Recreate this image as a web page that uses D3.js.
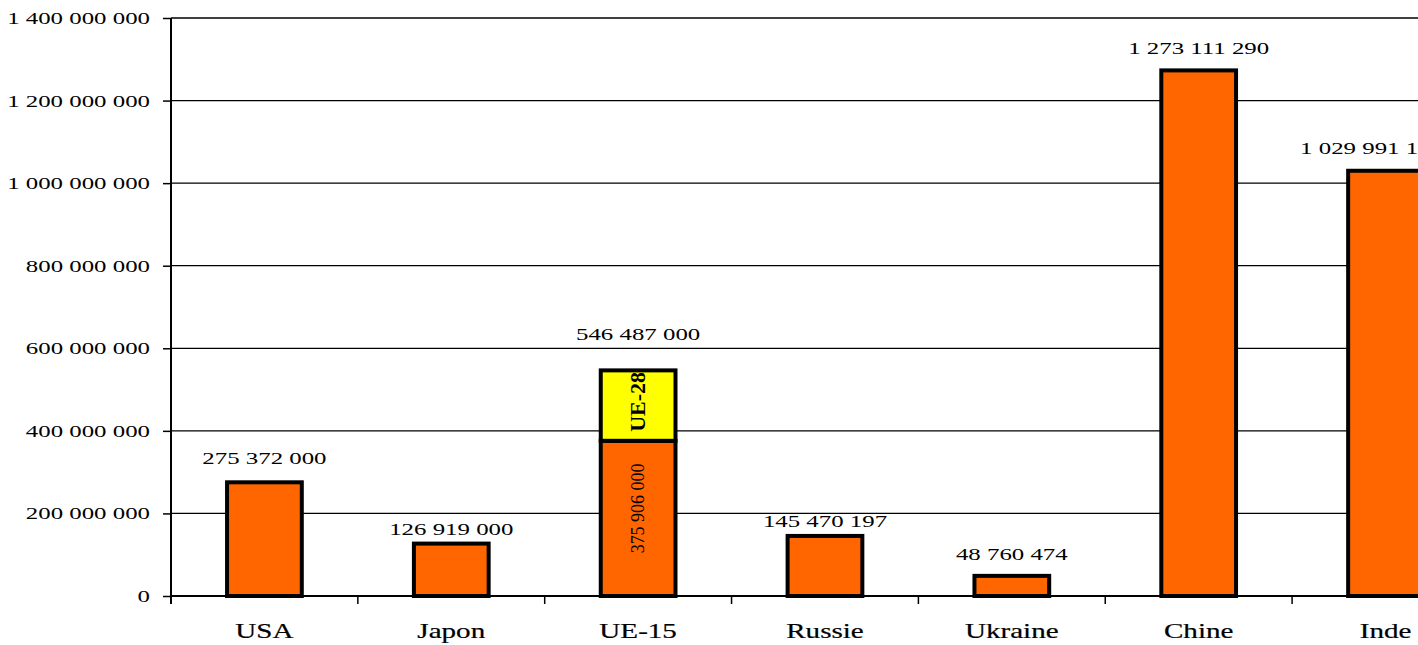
<!DOCTYPE html>
<html>
<head>
<meta charset="utf-8">
<script src="https://cdn.jsdelivr.net/npm/d3@7"></script>
<style>
  html, body { margin: 0; padding: 0; background: #fff; overflow: hidden; }
  svg { display: block; }
  text { font-family: "Liberation Serif", "Times New Roman", serif; fill: #000; }
</style>
</head>
<body>
<svg id="chart" width="1418" height="645"></svg>
<script>
// Population by country / bloc
const categories = ["USA", "Japon", "UE-15", "Russie", "Ukraine", "Chine", "Inde"];
const population = [275372000, 126919000, 375906000, 145470197, 48760474, 1273111290, 1029991145];
// Additional population brought by enlargement to UE-28 (stacked on UE-15)
const enlargement = [0, 0, 170581000, 0, 0, 0, 0];
const enlargementLabel = "UE-28";
const yTicks = [0, 200000000, 400000000, 600000000, 800000000, 1000000000, 1200000000, 1400000000];

// Label placement above each bar (px)
const labelGap = { "USA": 24, "Japon": 15, "UE-15": 36, "Russie": 15, "Ukraine": 22, "Chine": 22, "Inde": 23 };
const labelShift = { "Inde": -14 };

const fr = d3.formatLocale({ decimal: ",", thousands: " ", grouping: [3], currency: ["", " €"] });
const fmt = fr.format(",d");

const svg = d3.select("#chart");
const plotLeft = 171, plotTop = 18, plotBottom = 596;
const step = 186.85;
const STRETCH = 1.42; // horizontal stretch of the type

const x = d3.scaleBand()
  .domain(categories)
  .range([plotLeft, plotLeft + step * categories.length])
  .paddingInner(0.6)
  .paddingOuter(0.3);

const y = d3.scaleLinear().domain([0, 1400000000]).range([plotBottom, plotTop]);

const data = categories.map((c, i) => ({
  cat: c, base: population[i], extra: enlargement[i], total: population[i] + enlargement[i]
}));

// Horizontal gridlines
svg.append("g").selectAll("line").data(yTicks.filter(t => t > 0)).join("line")
  .attr("x1", plotLeft).attr("x2", 1500)
  .attr("y1", d => y(d)).attr("y2", d => y(d))
  .attr("stroke", "#000").attr("stroke-width", 1.3);

// Y axis
const yAxis = d3.axisLeft(y).tickValues(yTicks).tickSize(8).tickFormat("");
const gy = svg.append("g").attr("transform", `translate(${plotLeft},0)`).call(yAxis);
gy.select(".domain").remove();
gy.selectAll(".tick line").attr("stroke", "#000").attr("stroke-width", 1.5);
svg.append("line").attr("x1", plotLeft).attr("x2", plotLeft).attr("y1", plotTop).attr("y2", plotBottom + 8)
  .attr("stroke", "#000").attr("stroke-width", 2);

// Y tick labels (stretched serif)
svg.append("g").selectAll("g").data(yTicks).join("g")
  .attr("transform", d => `translate(150,${y(d) + 6}) scale(${STRETCH},1)`)
  .append("text")
  .attr("text-anchor", "end")
  .attr("font-size", 17.5)
  .text(d => fmt(d));

// X axis baseline and band-boundary ticks
svg.append("line").attr("x1", plotLeft).attr("x2", 1500).attr("y1", plotBottom).attr("y2", plotBottom)
  .attr("stroke", "#000").attr("stroke-width", 2);
svg.append("g").selectAll("line").data(categories).join("line")
  .attr("x1", d => x(d) - x.step() * 0.3 + x.step())
  .attr("x2", d => x(d) - x.step() * 0.3 + x.step())
  .attr("y1", plotBottom).attr("y2", plotBottom + 8)
  .attr("stroke", "#000").attr("stroke-width", 1.5);

// Category labels
svg.append("g").selectAll("g").data(categories).join("g")
  .attr("transform", d => `translate(${x(d) + x.bandwidth() / 2},638) scale(${STRETCH},1)`)
  .append("text")
  .attr("text-anchor", "middle")
  .attr("font-size", 20.5)
  .attr("stroke", "#000").attr("stroke-width", 0.2)
  .text(d => d);

// Base bars
svg.append("g").selectAll("rect").data(data).join("rect")
  .attr("x", d => x(d.cat))
  .attr("width", x.bandwidth())
  .attr("y", d => y(d.base))
  .attr("height", d => y(0) - y(d.base))
  .attr("fill", "#FF6600")
  .attr("stroke", "#000").attr("stroke-width", 4);

// Stacked enlargement segment
const ext = data.filter(d => d.extra > 0);
svg.append("g").selectAll("rect").data(ext).join("rect")
  .attr("x", d => x(d.cat))
  .attr("width", x.bandwidth())
  .attr("y", d => y(d.total))
  .attr("height", d => y(d.base) - y(d.total))
  .attr("fill", "#FFFF00")
  .attr("stroke", "#000").attr("stroke-width", 4);

// Rotated labels inside the stacked bar
const defs = svg.append("defs");
ext.forEach((d, i) => {
  const cx = x(d.cat) + x.bandwidth() / 2;
  svg.append("g")
    .attr("transform", `translate(${cx + 6},${(y(d.base) + y(0)) / 2 - 10}) scale(1.05,1) rotate(-90)`)
    .append("text").attr("text-anchor", "middle").attr("font-size", 18)
    .text(fmt(d.base));
  // segment label, clipped to the inside of its box
  const clipId = "seg-clip-" + i;
  defs.append("clipPath").attr("id", clipId).append("rect")
    .attr("x", x(d.cat) + 2).attr("width", x.bandwidth() - 4)
    .attr("y", y(d.total) + 2).attr("height", y(d.base) - y(d.total) - 4);
  svg.append("g").attr("clip-path", `url(#${clipId})`)
    .append("g")
    .attr("transform", `translate(${cx + 7},${y(d.base) - 9}) rotate(-90)`)
    .append("text").attr("text-anchor", "start").attr("font-size", 22).attr("font-weight", "bold")
    .text(enlargementLabel);
});

// Value labels above bars
svg.append("g").selectAll("g").data(data).join("g")
  .attr("transform", d => `translate(${x(d.cat) + x.bandwidth() / 2 + (labelShift[d.cat] || 0)},${y(d.total) - labelGap[d.cat] + 6}) scale(${STRETCH},1)`)
  .append("text")
  .attr("text-anchor", "middle")
  .attr("font-size", 17.5)
  .text(d => fmt(d.total));
</script>
</body>
</html>
